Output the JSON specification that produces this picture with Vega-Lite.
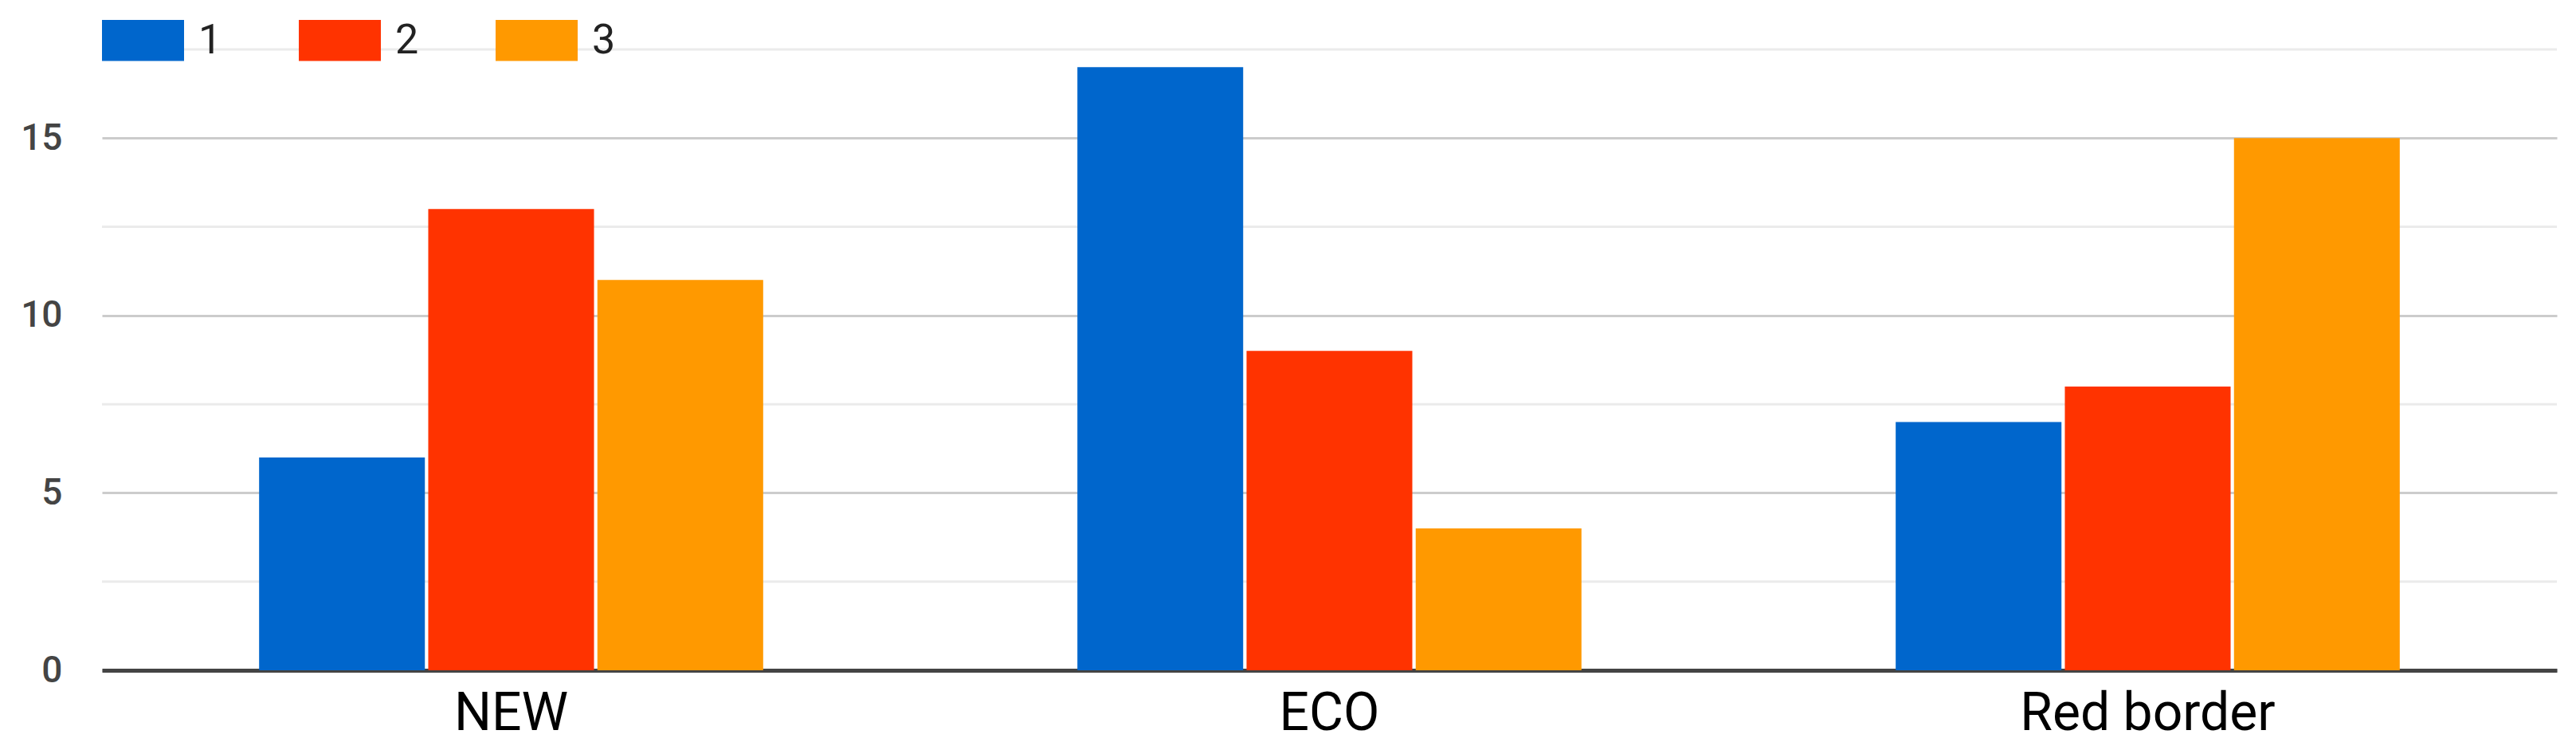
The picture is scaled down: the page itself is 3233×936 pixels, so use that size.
{
  "$schema": "https://vega.github.io/schema/vega-lite/v6.json",
  "width": 3081,
  "height": 779,
  "autosize": "none",
  "padding": {"left": 128, "top": 62, "right": 24, "bottom": 95},
  "background": "white",
  "config": {"view": {"stroke": null}, "font": "Roboto"},
  "layer": [
    {
      "data": {"values": [{"v": 2.5}, {"v": 7.5}, {"v": 12.5}, {"v": 17.5}]},
      "mark": {"type": "rule", "color": "#ebebeb", "strokeWidth": 3},
      "encoding": {"y": {"field": "v", "type": "quantitative"}}
    },
    {
      "data": {"values": [
        {"category": "NEW", "series": "1", "value": 6},
        {"category": "NEW", "series": "2", "value": 13},
        {"category": "NEW", "series": "3", "value": 11},
        {"category": "ECO", "series": "1", "value": 17},
        {"category": "ECO", "series": "2", "value": 9},
        {"category": "ECO", "series": "3", "value": 4},
        {"category": "Red border", "series": "1", "value": 7},
        {"category": "Red border", "series": "2", "value": 8},
        {"category": "Red border", "series": "3", "value": 15}
      ]},
      "mark": {"type": "bar"},
      "encoding": {
        "x": {
          "field": "category", "type": "nominal", "sort": ["NEW", "ECO", "Red border"],
          "scale": {"paddingInner": 0.384, "paddingOuter": 0.192},
          "axis": {"title": null, "labelAngle": 0, "labelFontSize": 66, "labelLimit": 0, "labelColor": "#000", "ticks": false, "domainColor": "#444", "domainWidth": 5, "labelPadding": 22, "grid": false}
        },
        "xOffset": {"field": "series", "type": "nominal", "scale": {"paddingInner": 0.02}},
        "y": {
          "field": "value", "type": "quantitative",
          "scale": {"domain": [0, 17.5], "nice": false},
          "axis": {"title": null, "values": [0, 5, 10, 15], "labelFontSize": 46, "labelColor": "#444", "labelFontWeight": 500, "domain": false, "ticks": false, "labelPadding": 50, "gridColor": "#cccccc", "gridWidth": 3}
        },
        "color": {
          "field": "series", "type": "nominal",
          "scale": {"domain": ["1", "2", "3"], "range": ["#0066CC", "#FF3300", "#FF9900"]},
          "legend": {"title": null, "orient": "none", "legendX": 0, "legendY": -63, "direction": "horizontal", "symbolType": "M-1,-0.5H1V0.5H-1Z", "symbolSize": 10609, "symbolStrokeWidth": 0, "symbolOpacity": 1, "labelFontSize": 52, "labelColor": "#222", "labelOffset": 18, "columnPadding": 96}
        }
      }
    }
  ]
}
